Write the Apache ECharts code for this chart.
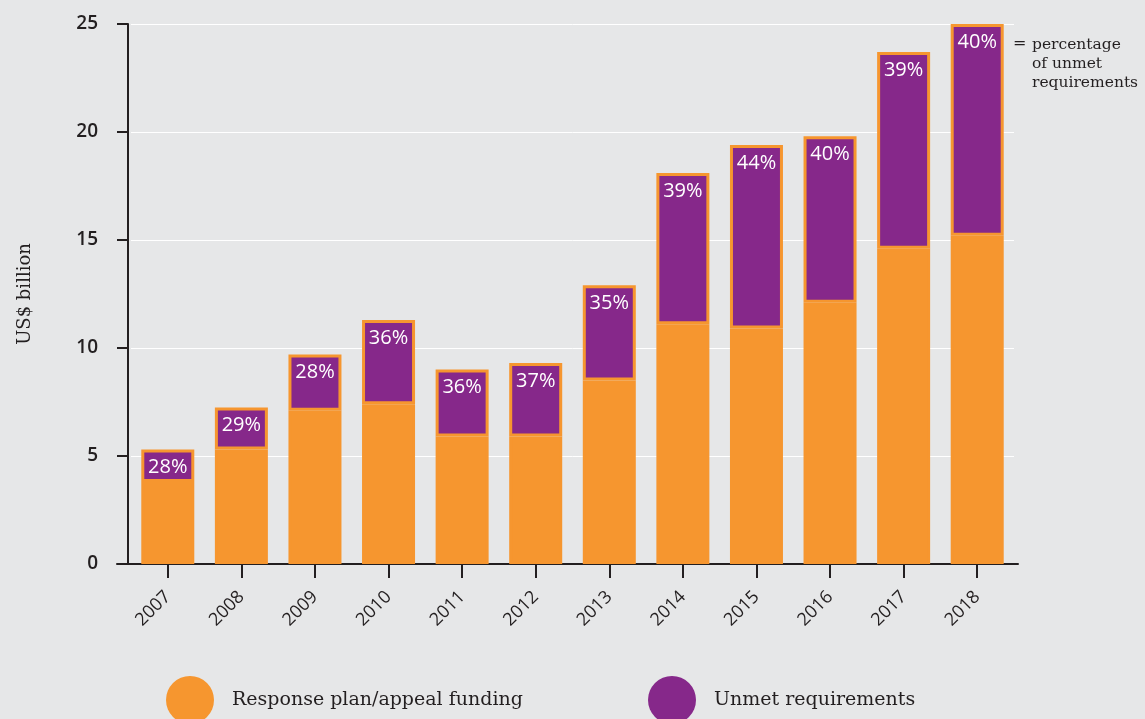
<!DOCTYPE html>
<html><head><meta charset="utf-8">
<script src="https://cdn.jsdelivr.net/npm/echarts@6/dist/echarts.min.js"></script>
<style>html,body{margin:0;padding:0;background:#e6e7e8;}#c{width:1145px;height:719px;}</style>
</head><body><div id="c"></div>
<script>
const years = ['2007','2008','2009','2010','2011','2012','2013','2014','2015','2016','2017','2018'];
const funding = [3.8, 5.3, 7.1, 7.4, 5.9, 5.9, 8.5, 11.1, 10.9, 12.1, 14.6, 15.2];
const unmet = [1.5, 1.95, 2.6, 3.9, 3.1, 3.4, 4.4, 7.0, 8.5, 7.7, 9.1, 9.8];
const unmetPct = ['28%','29%','28%','36%','36%','37%','35%','39%','44%','40%','39%','40%'];
const yTicks = [0, 5, 10, 15, 20, 25];

const ORANGE = '#f6962f';
const PURPLE = '#86288a';
const INK = '#231f20';
const SERIF = '"DejaVu Serif", serif';
const SANS = '"Open Sans", sans-serif';

const chart = echarts.init(document.getElementById('c'), null, {renderer: 'canvas'});
chart.setOption({
  backgroundColor: '#e6e7e8',
  animation: false,
  grid: [
    {left: 131, right: 131, top: 24, bottom: 155},
    {left: 117, right: 127, top: 24, bottom: 155}
  ],
  legend: [
    {left: 166, top: 676, padding: 0, itemWidth: 48, itemHeight: 48, itemGap: 0, icon: 'circle',
     itemStyle: {borderWidth: 0},
     data: ['Response plan/appeal funding'],
     textStyle: {fontFamily: SERIF, fontSize: 19, color: INK, padding: [8, 0, 0, 13]}},
    {left: 648, top: 676, padding: 0, itemWidth: 48, itemHeight: 48, itemGap: 0, icon: 'circle',
     itemStyle: {borderWidth: 0},
     data: ['Unmet requirements'],
     textStyle: {fontFamily: SERIF, fontSize: 19, color: INK, padding: [8, 0, 0, 13]}}
  ],
  xAxis: [
    {type: 'category', gridIndex: 0, data: years,
     axisLine: {show: false},
     axisTick: {show: true, alignWithLabel: true, length: 14, lineStyle: {color: INK, width: 2}},
     axisLabel: {rotate: 45, fontFamily: SANS, fontSize: 18, fontWeight: 500, color: INK, margin: 30}},
    {type: 'category', gridIndex: 1, data: years,
     axisLine: {show: true, lineStyle: {color: INK, width: 2}},
     axisTick: {show: false}, axisLabel: {show: false}}
  ],
  yAxis: [
    {type: 'value', gridIndex: 0, min: yTicks[0], max: yTicks[yTicks.length - 1], interval: 5, offset: 3,
     name: 'US$ billion', nameLocation: 'middle', nameGap: 94,
     nameTextStyle: {fontFamily: SERIF, fontSize: 18, color: INK},
     axisLine: {show: true, lineStyle: {color: INK, width: 2}},
     axisTick: {show: true, length: 11, lineStyle: {color: INK, width: 2}},
     axisLabel: {fontFamily: SANS, fontSize: 19, fontWeight: 600, color: INK, margin: 30},
     splitLine: {show: true, lineStyle: {color: '#ffffff', width: 1}}},
    {type: 'value', gridIndex: 1, min: 0, max: 25, show: false, splitLine: {show: false}}
  ],
  series: [
    {name: 'Response plan/appeal funding', type: 'bar', stack: 'total', data: funding,
     xAxisIndex: 0, yAxisIndex: 0, barWidth: 53,
     itemStyle: {color: ORANGE, borderColor: ORANGE, borderWidth: 3}},
    {name: 'Unmet requirements', type: 'bar', stack: 'total', data: unmet,
     xAxisIndex: 0, yAxisIndex: 0, barWidth: 53,
     itemStyle: {color: PURPLE, borderColor: ORANGE, borderWidth: 3},
     label: {show: true, position: 'insideTop', distance: 8,
             formatter: p => unmetPct[p.dataIndex],
             fontFamily: SANS, fontSize: 20, color: '#ffffff'}}
  ],
  graphic: [
    {type: 'text', left: 1013, top: 36, style: {text: '=', fontFamily: SERIF, fontSize: 16, fill: INK}},
    {type: 'text', left: 1032, top: 35, style: {text: 'percentage\nof unmet\nrequirements', fontFamily: SERIF, fontSize: 15.5, lineHeight: 19, fill: INK}}
  ]
});
</script></body></html>
